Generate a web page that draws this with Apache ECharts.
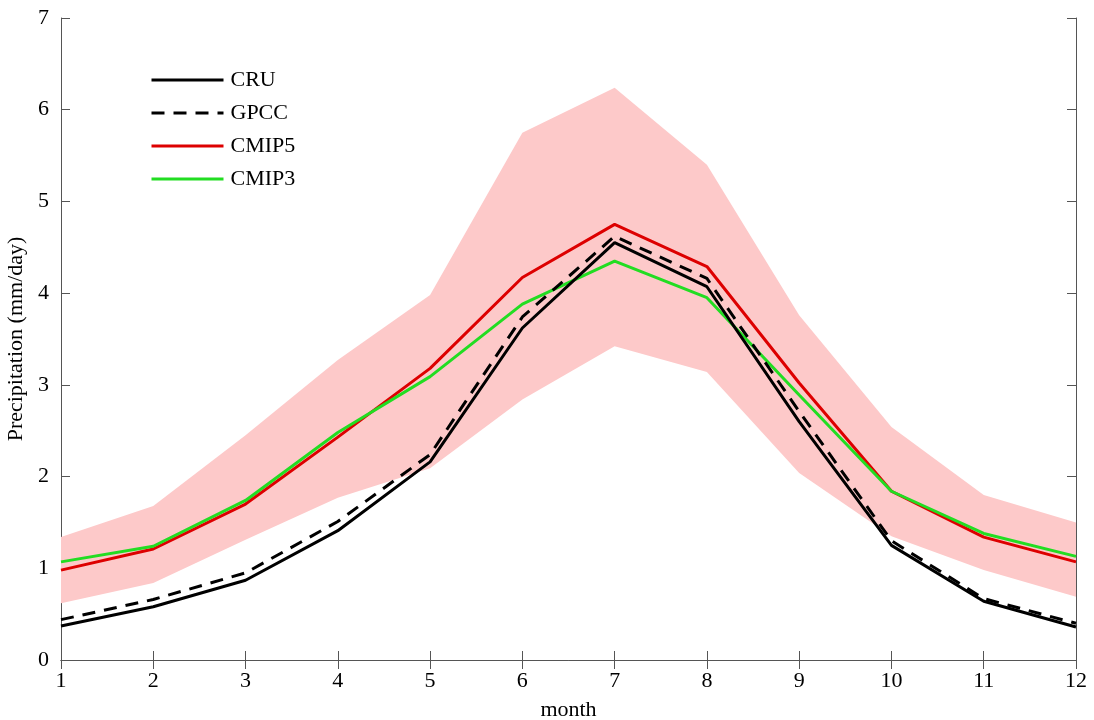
<!DOCTYPE html>
<html>
<head>
<meta charset="utf-8">
<script src="https://cdn.jsdelivr.net/npm/echarts@6/dist/echarts.min.js"></script>
<style>
  html, body { margin: 0; padding: 0; background: #fff; }
  #chart { width: 1094px; height: 720px; }
</style>
</head>
<body>
<div id="chart"></div>
<script>
// Monthly precipitation climatology (mm/day)
const months = ['1', '2', '3', '4', '5', '6', '7', '8', '9', '10', '11', '12'];
const cru   = [0.37, 0.58, 0.87, 1.41, 2.16, 3.62, 4.55, 4.07, 2.60, 1.25, 0.64, 0.36];
const gpcc  = [0.44, 0.66, 0.95, 1.51, 2.24, 3.74, 4.62, 4.16, 2.71, 1.30, 0.67, 0.40];
const cmip5 = [0.98, 1.21, 1.70, 2.43, 3.18, 4.17, 4.75, 4.29, 3.02, 1.84, 1.34, 1.07];
const cmip3 = [1.07, 1.24, 1.74, 2.48, 3.09, 3.88, 4.35, 3.95, 2.89, 1.84, 1.38, 1.13];
// CMIP5 ensemble spread
const spreadLow  = [0.62, 0.84, 1.31, 1.77, 2.09, 2.84, 3.42, 3.14, 2.04, 1.35, 0.98, 0.69];
const spreadHigh = [1.34, 1.68, 2.45, 3.27, 3.98, 5.75, 6.24, 5.40, 3.76, 2.54, 1.80, 1.50];
const yTicks = [0, 1, 2, 3, 4, 5, 6, 7];

const font = 'Liberation Serif, Times New Roman, serif';
const axisColor = '#555';

const spreadWidth = spreadHigh.map((h, i) => +(h - spreadLow[i]).toFixed(3));

const chart = echarts.init(document.getElementById('chart'));
chart.setOption({
  animation: false,
  backgroundColor: '#fff',
  grid: { left: 61, right: 18, top: 18, bottom: 60, outerBoundsMode: 'none', containLabel: false },
  legend: {
    orient: 'vertical',
    left: 145,
    top: 64,
    itemWidth: 72,
    itemHeight: 14,
    itemGap: 11,
    data: ['CRU', 'GPCC', 'CMIP5', 'CMIP3'],
    itemStyle: { opacity: 0 },
    lineStyle: { width: 3 },
    textStyle: { fontFamily: font, fontSize: 22, color: '#000', padding: [0, 0, 0, 2] }
  },
  xAxis: [{
    type: 'category',
    data: months,
    boundaryGap: false,
    name: 'month',
    nameLocation: 'middle',
    nameGap: 39,
    nameTextStyle: { fontFamily: font, fontSize: 22, color: '#000' },
    axisLine: { lineStyle: { color: axisColor, width: 1 } },
    axisTick: { inside: true, length: 9, lineStyle: { color: axisColor } },
    axisLabel: { fontFamily: font, fontSize: 22, color: '#000', margin: 10 },
    splitLine: { show: false }
  }, {
    type: 'category',
    data: months,
    boundaryGap: false,
    position: 'top',
    axisLine: { lineStyle: { color: axisColor, width: 1 } },
    axisTick: { inside: true, length: 9, lineStyle: { color: axisColor } },
    axisLabel: { show: false },
    splitLine: { show: false }
  }],
  yAxis: [{
    type: 'value',
    min: yTicks[0],
    max: yTicks[yTicks.length - 1],
    interval: 1,
    name: 'Precipitation (mm/day)',
    nameLocation: 'middle',
    nameGap: 28,
    nameTextStyle: { fontFamily: font, fontSize: 22, color: '#000' },
    axisLine: { show: true, lineStyle: { color: axisColor, width: 1 } },
    axisTick: { show: true, inside: true, length: 9, lineStyle: { color: axisColor } },
    axisLabel: { fontFamily: font, fontSize: 22, color: '#000', margin: 12 },
    splitLine: { show: false }
  }, {
    type: 'value',
    min: yTicks[0],
    max: yTicks[yTicks.length - 1],
    interval: 1,
    position: 'right',
    axisLine: { show: true, lineStyle: { color: axisColor, width: 1 } },
    axisTick: { show: true, inside: true, length: 9, lineStyle: { color: axisColor } },
    axisLabel: { show: false },
    splitLine: { show: false }
  }],
  series: [
    {
      name: 'spreadLow',
      type: 'line',
      data: spreadLow,
      stack: 'spread',
      symbol: 'none',
      lineStyle: { opacity: 0 },
      silent: true,
      z: 1
    },
    {
      name: 'spread',
      type: 'line',
      data: spreadWidth,
      stack: 'spread',
      symbol: 'none',
      lineStyle: { opacity: 0 },
      areaStyle: { color: '#fdc9c9', opacity: 1 },
      silent: true,
      z: 1
    },
    {
      name: 'CMIP5',
      type: 'line',
      data: cmip5,
      symbol: 'none',
      color: '#dd0000',
      lineStyle: { color: '#dd0000', width: 3 },
      z: 3
    },
    {
      name: 'CMIP3',
      type: 'line',
      data: cmip3,
      symbol: 'none',
      color: '#22dd22',
      lineStyle: { color: '#22dd22', width: 3 },
      z: 4
    },
    {
      name: 'CRU',
      type: 'line',
      data: cru,
      symbol: 'none',
      color: '#000',
      lineStyle: { color: '#000', width: 3 },
      z: 5
    },
    {
      name: 'GPCC',
      type: 'line',
      data: gpcc,
      symbol: 'none',
      color: '#000',
      lineStyle: { color: '#000', width: 3, type: [13, 9] },
      z: 6
    }
  ]
});
</script>
</body>
</html>
